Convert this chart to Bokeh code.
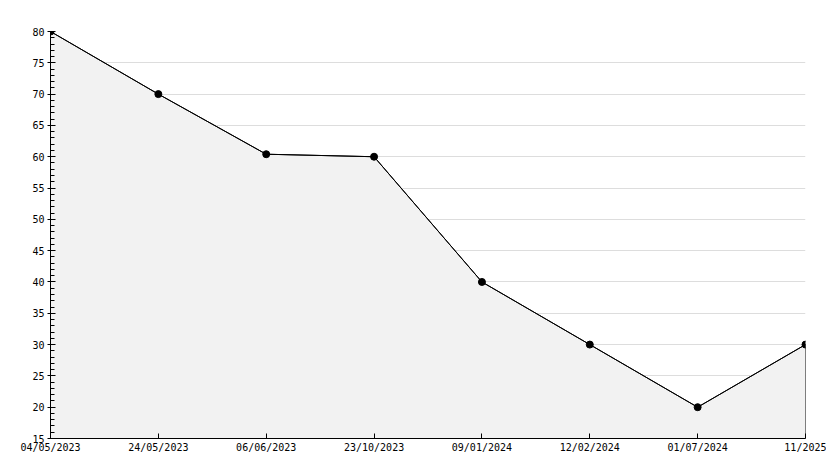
from bokeh.plotting import figure
from bokeh.models import FixedTicker, Range1d, ColumnDataSource
from bokeh.embed import file_html
from bokeh.resources import INLINE

categories = ["04/05/2023", "24/05/2023", "06/06/2023", "23/10/2023",
              "09/01/2024", "12/02/2024", "01/07/2024", "11/2025"]
values = [80, 70, 60.4, 60, 40, 30, 20, 30]
y_ticks = list(range(15, 81, 5))
y_minor = list(range(15, 81, 1))
y_min, y_max = 15, 80

xs = list(range(len(categories)))

p = figure(width=826, height=460, output_backend="svg", toolbar_location=None,
           x_range=Range1d(0, len(categories) - 1), y_range=Range1d(y_min, y_max),
           min_border_left=50, min_border_right=21, min_border_top=31, min_border_bottom=22)
p.outline_line_color = None
p.background_fill_color = "white"

# area polygon with outline
poly_x = xs + [xs[-1], xs[0]]
poly_y = values + [y_min, y_min]
p.patch(poly_x, poly_y, fill_color="#f2f2f2", line_color="black", line_width=1)

src = ColumnDataSource(dict(x=xs, y=values))
p.line("x", "y", source=src, line_color="black", line_width=1)
p.scatter("x", "y", source=src, marker="circle", size=7, fill_color="black", line_color="black")

# grid
p.xgrid.visible = False
p.ygrid.grid_line_color = "#dddddd"
p.ygrid.grid_line_width = 1
p.ygrid.level = "underlay"

font = "DejaVu Sans Mono"
# x axis
p.xaxis.ticker = FixedTicker(ticks=xs)
p.xaxis.major_label_overrides = {i: c for i, c in enumerate(categories)}
p.xaxis.major_tick_in = 5
p.xaxis.major_tick_out = 0
p.xaxis.minor_tick_line_color = None
p.xaxis.axis_line_color = "black"
p.xaxis.major_label_text_font = font
p.xaxis.major_label_text_font_size = "10px"
p.xaxis.major_label_text_color = "black"
p.xaxis.major_label_standoff = 3

# y axis
p.yaxis.ticker = FixedTicker(ticks=y_ticks, minor_ticks=y_minor)
p.yaxis.major_tick_in = 5
p.yaxis.major_tick_out = 3
p.yaxis.minor_tick_in = 4
p.yaxis.minor_tick_out = 0
p.yaxis.axis_line_color = "black"
p.yaxis.major_label_text_font = font
p.yaxis.major_label_text_font_size = "10px"
p.yaxis.major_label_text_color = "black"
p.yaxis.major_label_standoff = 3

open("out.html", "w").write(file_html(p, INLINE))
